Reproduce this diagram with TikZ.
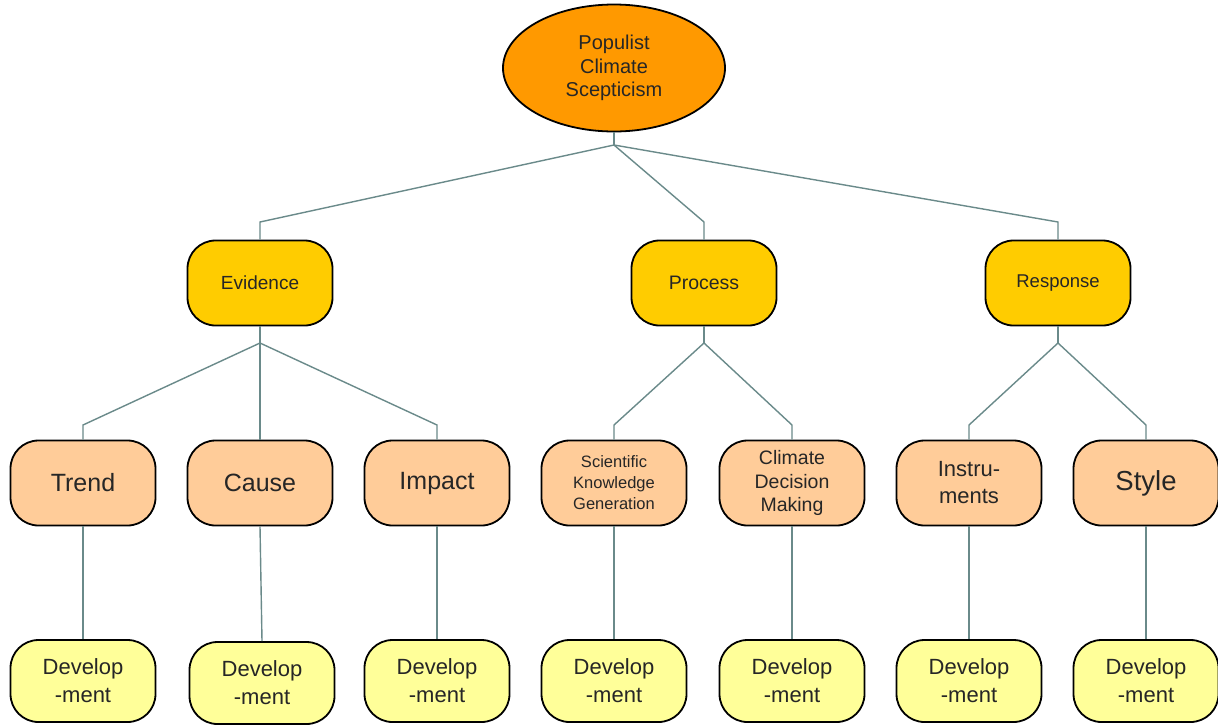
\documentclass[tikz,border=0pt]{standalone}
\usepackage{fontspec}
\setmainfont{Liberation Sans}
\usetikzlibrary{shapes.geometric}
\definecolor{cTop}{HTML}{FF9900}
\definecolor{cMid}{HTML}{FFCC00}
\definecolor{cLow}{HTML}{FFCC99}
\definecolor{cDev}{HTML}{FFFF99}
\definecolor{cLine}{HTML}{6A8A8A}
\tikzset{
  box/.style={draw=black, line width=1.8pt, rounded corners=28pt, minimum width=145pt, minimum height=85pt, inner sep=0pt, align=center, text=black!85},
  midbox/.style={box, fill=cMid},
  lowbox/.style={box, fill=cLow},
  devbox/.style={box, fill=cDev, minimum height=82pt, font=\fontsize{22}{28}\selectfont},
  link/.style={draw=cLine, line width=1.4pt},
}
\begin{document}
\begin{tikzpicture}[x=1pt,y=-1pt]
\useasboundingbox[fill=white] (0,0) rectangle (1218,724);
% top
\node[ellipse, draw=black, line width=1.8pt, fill=cTop, minimum width=222pt, minimum height=127pt, inner sep=0pt, align=center, text=black!85, font=\fontsize{20}{23.5}\selectfont] (top) at (614,68) {Populist\\Climate\\Scepticism};
% level 2
\node[midbox, font=\fontsize{19}{23}\selectfont] (ev) at (260,283) {Evidence};
\node[midbox, font=\fontsize{19.5}{23}\selectfont] (pr) at (704,283) {Process};
\node[midbox, font=\fontsize{18.5}{23}\selectfont] (re) at (1058,283) {Response};
% level 3
\node[lowbox, font=\fontsize{25}{28}\selectfont] (tr) at (83,483) {Trend};
\node[lowbox, font=\fontsize{25}{28}\selectfont] (ca) at (260,483) {Cause};
\node[lowbox, font=\fontsize{25}{28}\selectfont] (im) at (437,483) {Impact};
\node[lowbox, font=\fontsize{16.5}{21}\selectfont] (sk) at (614,483) {Scientific\\Knowledge\\Generation};
\node[lowbox, font=\fontsize{19.5}{23.5}\selectfont] (cd) at (792,483) {Climate\\Decision\\Making};
\node[lowbox, font=\fontsize{22}{27}\selectfont] (in) at (969,483) {Instru-\\ments};
\node[lowbox, font=\fontsize{27.5}{30}\selectfont] (st) at (1146,483) {Style};
% level 4
\node[devbox] (d1) at (83,681) {Develop\\-ment};
\node[devbox] (d2) at (262,683) {Develop\\-ment};
\node[devbox] (d3) at (437,681) {Develop\\-ment};
\node[devbox] (d4) at (614,681) {Develop\\-ment};
\node[devbox] (d5) at (792,681) {Develop\\-ment};
\node[devbox] (d6) at (969,681) {Develop\\-ment};
\node[devbox] (d7) at (1146,681) {Develop\\-ment};
% junctions
\coordinate (j0) at (614,145);
\coordinate (j1) at (260,343);
\coordinate (j2) at (704,343);
\coordinate (j3) at (1058,343);
\begin{scope}[on background layer/.style={}]
\path[link] (top.south) -- (j0);
\path[link] (j0) -- (260,222) -- (ev.north);
\path[link] (j0) -- (704,222) -- (pr.north);
\path[link] (j0) -- (1058,222) -- (re.north);
\path[link] (ev.south) -- (j1);
\path[link] (pr.south) -- (j2);
\path[link] (re.south) -- (j3);
\path[link] (j1) -- (83,425) -- (tr.north);
\path[link] (j1) -- (ca.north);
\path[link] (j1) -- (437,425) -- (im.north);
\path[link] (j2) -- (614,425) -- (sk.north);
\path[link] (j2) -- (792,425) -- (cd.north);
\path[link] (j3) -- (969,425) -- (in.north);
\path[link] (j3) -- (1146,425) -- (st.north);
\path[link] (tr.south) -- (d1.north);
\path[link] (ca.south) -- (d2.north);
\path[link] (im.south) -- (d3.north);
\path[link] (sk.south) -- (d4.north);
\path[link] (cd.south) -- (d5.north);
\path[link] (in.south) -- (d6.north);
\path[link] (st.south) -- (d7.north);
\end{scope}
\end{tikzpicture}
\end{document}
